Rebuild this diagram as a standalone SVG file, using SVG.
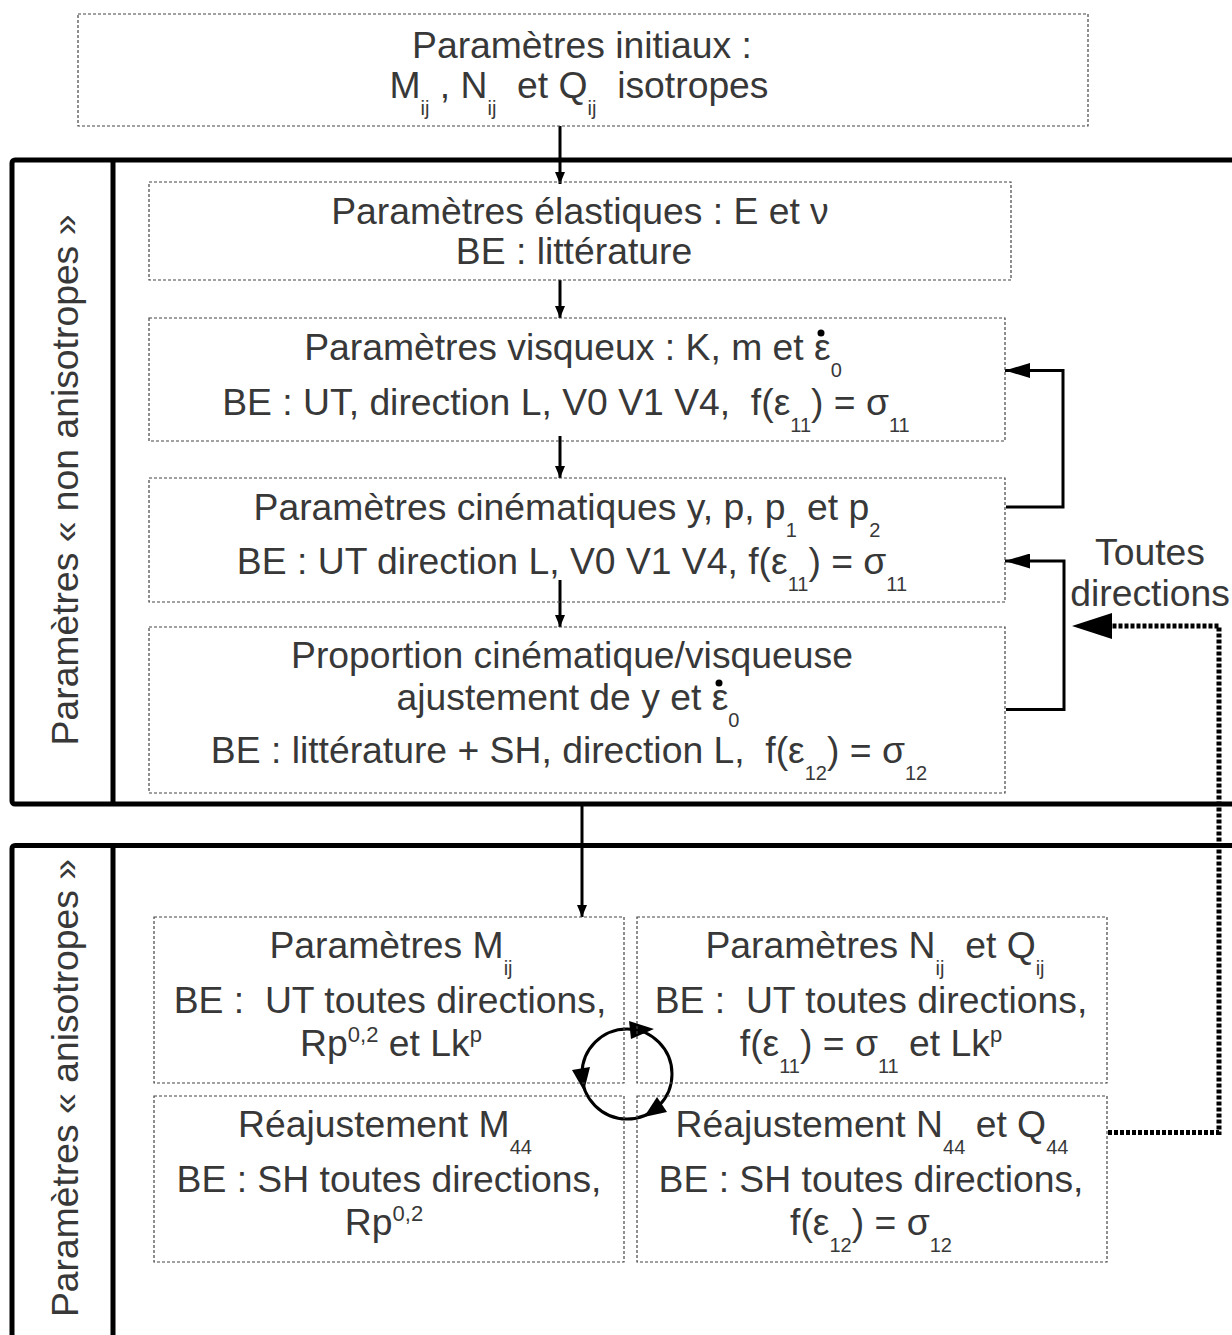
<svg xmlns="http://www.w3.org/2000/svg" width="1232" height="1335" viewBox="0 0 1232 1335">
<style>
.box{fill:none;stroke:#444;stroke-width:1.2;stroke-dasharray:3 2}
.frame{fill:none;stroke:#000;stroke-width:5;stroke-linejoin:round}
.t{font-family:"Liberation Sans",Arial,sans-serif;font-size:37.3px;fill:#383838;text-anchor:middle}
.sub{font-size:20px}
.sup{font-size:22px}
.conn{stroke:#000;stroke-width:3;fill:none}
.dot{fill:#000}
.dotted{stroke:#000;stroke-width:5;fill:none;stroke-dasharray:4 2}
</style>
<defs>
<marker id="arr" viewBox="0 0 12 10" refX="12" refY="5" markerWidth="12" markerHeight="10" markerUnits="userSpaceOnUse" orient="auto"><path d="M0,0 L12,5 L0,10 z" fill="#000"/></marker>
<marker id="arrL" viewBox="0 0 25 15" refX="25" refY="7.5" markerWidth="25" markerHeight="15" markerUnits="userSpaceOnUse" orient="auto"><path d="M0,0 L25,7.5 L0,15 z" fill="#000"/></marker>
</defs>
<rect width="1232" height="1335" fill="#fff"/>

<g id="frame-non-aniso">
<rect class="frame" x="12" y="160" width="1240" height="644" rx="3"/>
<line class="frame" x1="113" y1="160" x2="113" y2="804"/>
<text class="t" transform="translate(78,480) rotate(-90)">Paramètres « non anisotropes »</text>
</g>
<g id="frame-aniso">
<rect class="frame" x="12" y="845.5" width="1240" height="600" rx="3"/>
<line class="frame" x1="113" y1="845.5" x2="113" y2="1340"/>
<text class="t" transform="translate(78,1088) rotate(-90)">Paramètres « anisotropes »</text>
</g>

<g id="connectors">
<path class="conn" d="M560,126 V184" marker-end="url(#arr)"/>
<path class="conn" d="M560,280 V318" marker-end="url(#arr)"/>
<path class="conn" d="M560,436 V478" marker-end="url(#arr)"/>
<path class="conn" d="M560,580 V627" marker-end="url(#arr)"/>
<path class="conn" d="M582,806 V917" marker-end="url(#arr)"/>
<path class="conn" d="M1006,507 H1063 V370.5 H1005" marker-end="url(#arrL)"/>
<path class="conn" d="M1006,709.5 H1064 V561 H1005" marker-end="url(#arrL)"/>
<path class="dotted" d="M1108,1132.5 H1219 V626 H1110"/>
<polygon points="1072,626 1112,613 1112,639" fill="#000"/>
<circle class="conn" cx="627" cy="1074" r="45"/>
<polygon points="654,1029 629,1021 631,1039" fill="#000"/>
<polygon points="584,1091 572,1070 590,1067" fill="#000"/>
<polygon points="644,1117 657,1097 667,1112" fill="#000"/>
</g>

<g id="n-init">
<rect class="box" x="78" y="14" width="1010" height="112"/>
<text class="t" x="582" y="58">Paramètres initiaux :</text>
<text class="t" x="579" y="98" xml:space="preserve">M<tspan class="sub" dy="17">ij</tspan><tspan dy="-17"> , N</tspan><tspan class="sub" dy="17">ij</tspan><tspan dy="-17">  et Q</tspan><tspan class="sub" dy="17">ij</tspan><tspan dy="-17">  isotropes</tspan></text>
</g>

<g id="n-elast">
<rect class="box" x="149" y="182" width="862" height="98"/>
<text class="t" x="580" y="224">Paramètres élastiques : E et ν</text>
<text class="t" x="574" y="264">BE : littérature</text>
</g>

<g id="n-visq">
<rect class="box" x="149" y="318" width="856" height="123"/>
<text class="t" x="573" y="360">Paramètres visqueux : K, m et ε<tspan class="sub" dy="17">0</tspan></text>
<circle class="dot" cx="821" cy="333" r="3.5"/>
<text class="t" x="566" y="415" xml:space="preserve">BE : UT, direction L, V0 V1 V4,  f(ε<tspan class="sub" dy="17">11</tspan><tspan dy="-17">) = σ</tspan><tspan class="sub" dy="17">11</tspan></text>
</g>

<g id="n-cine">
<rect class="box" x="149" y="478" width="856" height="124"/>
<text class="t" x="567" y="520">Paramètres cinématiques y, p, p<tspan class="sub" dy="17">1</tspan><tspan dy="-17"> et p</tspan><tspan class="sub" dy="17">2</tspan></text>
<text class="t" x="572" y="574">BE : UT direction L, V0 V1 V4, f(ε<tspan class="sub" dy="17">11</tspan><tspan dy="-17">) = σ</tspan><tspan class="sub" dy="17">11</tspan></text>
</g>

<g id="n-prop">
<rect class="box" x="149" y="627" width="856" height="166"/>
<text class="t" x="572" y="668">Proportion cinématique/visqueuse</text>
<text class="t" x="568" y="710">ajustement de y et ε<tspan class="sub" dy="17">0</tspan></text>
<circle class="dot" cx="719" cy="683" r="3.5"/>
<text class="t" x="569" y="763" xml:space="preserve">BE : littérature + SH, direction L,  f(ε<tspan class="sub" dy="17">12</tspan><tspan dy="-17">) = σ</tspan><tspan class="sub" dy="17">12</tspan></text>
</g>

<g id="n-mij">
<rect class="box" x="154" y="917" width="470" height="166"/>
<text class="t" x="391" y="958">Paramètres M<tspan class="sub" dy="17">ij</tspan></text>
<text class="t" x="390" y="1013" xml:space="preserve">BE :  UT toutes directions,</text>
<text class="t" x="391" y="1056">Rp<tspan class="sup" dy="-14">0,2</tspan><tspan dy="14"> et Lk</tspan><tspan class="sup" dy="-14">p</tspan></text>
</g>

<g id="n-nq">
<rect class="box" x="637" y="917" width="470" height="166"/>
<text class="t" x="875" y="958" xml:space="preserve">Paramètres N<tspan class="sub" dy="17">ij</tspan><tspan dy="-17">  et Q</tspan><tspan class="sub" dy="17">ij</tspan></text>
<text class="t" x="871" y="1013" xml:space="preserve">BE :  UT toutes directions,</text>
<text class="t" x="871" y="1056">f(ε<tspan class="sub" dy="17">11</tspan><tspan dy="-17">) = σ</tspan><tspan class="sub" dy="17">11</tspan><tspan dy="-17"> et Lk</tspan><tspan class="sup" dy="-14">p</tspan></text>
</g>

<g id="n-m44">
<rect class="box" x="154" y="1096" width="470" height="166"/>
<text class="t" x="385" y="1137">Réajustement M<tspan class="sub" dy="17">44</tspan></text>
<text class="t" x="389" y="1192">BE : SH toutes directions,</text>
<text class="t" x="384" y="1235">Rp<tspan class="sup" dy="-14">0,2</tspan></text>
</g>

<g id="n-n44">
<rect class="box" x="637" y="1096" width="470" height="166"/>
<text class="t" x="872" y="1137">Réajustement N<tspan class="sub" dy="17">44</tspan><tspan dy="-17"> et Q</tspan><tspan class="sub" dy="17">44</tspan></text>
<text class="t" x="871" y="1192">BE : SH toutes directions,</text>
<text class="t" x="871" y="1235">f(ε<tspan class="sub" dy="17">12</tspan><tspan dy="-17">) = σ</tspan><tspan class="sub" dy="17">12</tspan></text>
</g>

<g id="label-toutes">
<text class="t" x="1150" y="565">Toutes</text>
<text class="t" x="1150" y="606">directions</text>
</g>
</svg>
